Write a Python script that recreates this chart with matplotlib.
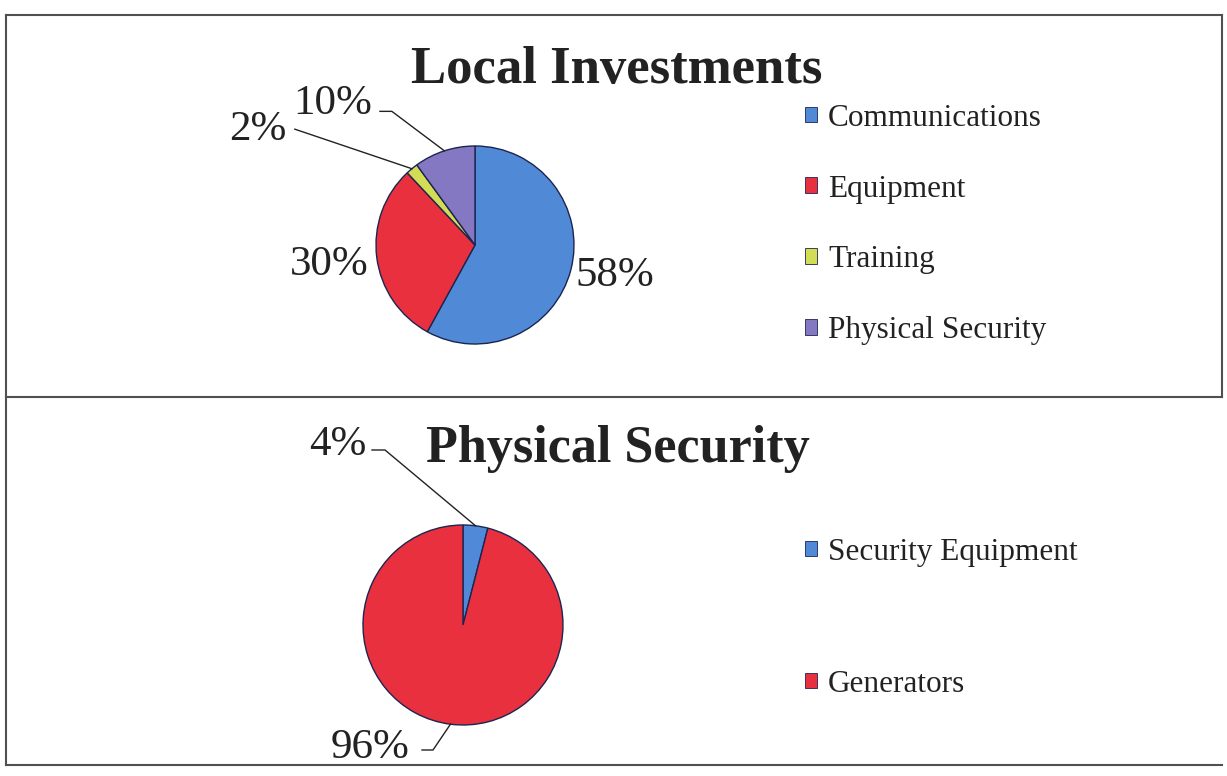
import numpy as np
import matplotlib
matplotlib.use('Agg')
import matplotlib.pyplot as plt
from matplotlib.patches import Patch

plt.rcParams['font.family'] = ['Liberation Serif', 'DejaVu Serif']

# data
local_labels = ['Communications', 'Equipment', 'Training', 'Physical Security']
local_values = [58, 30, 2, 10]
local_colors = ['#5089d6', '#e8303f', '#d2dc55', '#8478c2']

phys_labels = ['Security Equipment', 'Generators']
phys_values = [4, 96]
phys_colors = ['#4f89d8', '#e8303f']

W, H = 1227, 776
fig = plt.figure(figsize=(W / 100, H / 100), dpi=100)

# page frame in pixel coordinates
bg = fig.add_axes([0, 0, 1, 1])
bg.set_xlim(0, W)
bg.set_ylim(H, 0)
bg.axis('off')
frame_kw = dict(color='#505050', lw=1.5)
bg.plot([6, 1222], [15, 15], **frame_kw)
bg.plot([6, 6], [15, 765], **frame_kw)
bg.plot([1222, 1222], [15, 397], **frame_kw)
bg.plot([6, 1222], [397, 397], **frame_kw)
bg.plot([6, 1222], [765, 765], **frame_kw)


def pie_axes(cx, cy, r):
    ax = fig.add_axes([(cx - r) / W, 1 - (cy + r) / H, 2 * r / W, 2 * r / H])
    return ax


def mid_point(w):
    a = np.deg2rad((w.theta1 + w.theta2) / 2)
    return np.cos(a) * w.r, np.sin(a) * w.r


def draw_pie(ax, values, colors):
    wedges, _ = ax.pie(values, colors=colors, startangle=90, counterclock=False,
                       wedgeprops=dict(edgecolor='#1c2550', linewidth=1.0))
    ax.set_xlim(-1, 1)
    ax.set_ylim(-1, 1)
    ax.set_aspect('auto')
    return wedges


def leader(ax, w, pts):
    mx, my = mid_point(w)
    xs = [p[0] for p in pts] + [mx]
    ys = [p[1] for p in pts] + [my]
    ax.plot(xs, ys, color='#222222', lw=1.0, clip_on=False)


txt_kw = dict(fontsize=31, color='#222222', va='center')
leg_kw = dict(loc='upper left', frameon=False, fontsize=22.5, handlelength=0.4,
              handleheight=0.4, handletextpad=0.35, borderpad=0,
              labelcolor='#222222')

# ---- Local Investments ----
fig.text(617 / W, 1 - 70 / H, 'Local Investments', fontsize=38, fontweight='bold',
         ha='center', va='center', color='#222222')
ax1 = pie_axes(475, 245, 99)
w1 = draw_pie(ax1, local_values, local_colors)
ax1.text(1.01, -0.31, '58%', ha='left', clip_on=False, **txt_kw)
ax1.text(-1.07, -0.2, '30%', ha='right', clip_on=False, **txt_kw)
ax1.text(-1.9, 1.16, '2%', ha='right', clip_on=False, **txt_kw)
leader(ax1, w1[2], [(-1.82, 1.17)])
ax1.text(-1.04, 1.43, '10%', ha='right', clip_on=False, **txt_kw)
leader(ax1, w1[3], [(-0.96, 1.35), (-0.84, 1.35)])

handles1 = [Patch(facecolor=c, edgecolor='#1c2550', lw=0.6) for c in local_colors]
fig.legend(handles1, local_labels, bbox_to_anchor=(789 / W, 1 - 88 / H),
           labelspacing=1.34, **leg_kw)

# ---- Physical Security ----
fig.text(618 / W, 1 - 449 / H, 'Physical Security', fontsize=37.5, fontweight='bold',
         ha='center', va='center', color='#222222')
ax2 = pie_axes(463, 625, 100)
w2 = draw_pie(ax2, phys_values, phys_colors)
ax2.text(-0.96, 1.8, '4%', ha='right', clip_on=False, **txt_kw)
leader(ax2, w2[0], [(-0.91, 1.75), (-0.78, 1.75)])
ax2.text(-0.53, -1.23, '96%', ha='right', clip_on=False, **txt_kw)
leader(ax2, w2[1], [(-0.41, -1.25), (-0.3, -1.25)])

handles2 = [Patch(facecolor=c, edgecolor='#1c2550', lw=0.6) for c in phys_colors]
fig.legend(handles2, phys_labels, bbox_to_anchor=(789 / W, 1 - 522 / H),
           labelspacing=3.3, **leg_kw)

fig.savefig('out.png', dpi=100)
